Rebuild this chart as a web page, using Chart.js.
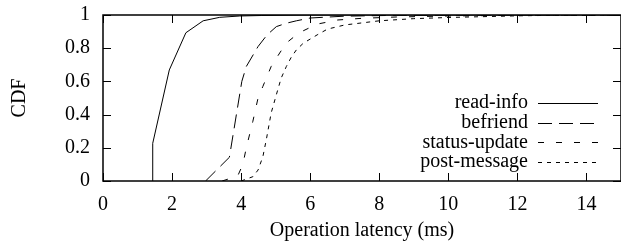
<!DOCTYPE html>
<html><head><meta charset="utf-8">
<script src="https://cdn.jsdelivr.net/npm/chart.js@4"></script>
<style>html,body{margin:0;padding:0;background:#fff}#c{display:block}</style>
</head><body>
<canvas id="c" width="621" height="241"></canvas>
<script>
const seriesLabels = ['read-info', 'befriend', 'status-update', 'post-message'];

const readInfoX = [1.44, 1.44, 1.92, 2.40, 2.90, 3.38, 3.96, 4.6, 6.0, 15];
const readInfoY = [0, 0.227, 0.669, 0.893, 0.965, 0.986, 0.994, 0.997, 1, 1];

const befriendX = [2.97, 3.66, 4.02, 4.15, 4.49, 4.75, 5.02, 5.3, 5.6, 6.0, 7, 8.5, 15];
const befriendY = [0, 0.143, 0.60, 0.69, 0.81, 0.88, 0.93, 0.95, 0.965, 0.982, 0.993, 0.998, 1];

const statusX = [3.45, 3.9, 4.05, 4.15, 4.34, 4.49, 4.63, 4.87, 5.02, 5.3, 5.6, 5.8, 6.2, 6.8, 7.5, 8.5, 10, 12, 15];
const statusY = [0, 0.03, 0.10, 0.20, 0.36, 0.50, 0.57, 0.69, 0.74, 0.83, 0.88, 0.905, 0.945, 0.97, 0.98, 0.988, 0.994, 0.998, 1];

const postX = [4.0, 4.34, 4.49, 4.63, 4.73, 4.87, 5.02, 5.16, 5.31, 5.45, 5.6, 5.8, 6.2, 6.5, 7.0, 8, 9, 10, 11, 12, 13, 15];
const postY = [0, 0.026, 0.066, 0.147, 0.25, 0.41, 0.52, 0.62, 0.69, 0.745, 0.79, 0.83, 0.88, 0.915, 0.94, 0.965, 0.978, 0.985, 0.99, 0.995, 0.998, 1];

const xTicks = [0, 2, 4, 6, 8, 10, 12, 14];
const yTicks = [0, 0.2, 0.4, 0.6, 0.8, 1];
const yTickLabels = ['0', '0.2', '0.4', '0.6', '0.8', '1'];
const xTitle = 'Operation latency (ms)';
const yTitle = 'CDF';

const FONT = 'Liberation Serif';
const FSIZE = 20;
const dashes = [[], [14, 7], [6, 12], [4, 5]];
const xs = [readInfoX, befriendX, statusX, postX];
const ys = [readInfoY, befriendY, statusY, postY];

const datasets = seriesLabels.map((lab, i) => ({
  label: lab,
  data: xs[i].map((x, j) => ({x: x, y: ys[i][j]})),
  borderColor: '#000',
  borderWidth: 1,
  borderDash: dashes[i],
  pointRadius: 0,
  tension: 0,
  fill: false
}));

const decor = {
  id: 'decor',
  afterDraw(chart) {
    const ctx = chart.ctx;
    const a = chart.chartArea;
    const sx = chart.scales.x, sy = chart.scales.y;
    ctx.save();
    ctx.strokeStyle = '#000';
    ctx.setLineDash([]);
    ctx.lineWidth = 1;
    ctx.beginPath();
    xTicks.forEach(v => {
      const p = Math.round(sx.getPixelForValue(v)) + 0.5;
      ctx.moveTo(p, a.bottom); ctx.lineTo(p, a.bottom - 8);
      ctx.moveTo(p, a.top); ctx.lineTo(p, a.top + 8);
    });
    yTicks.forEach(v => {
      const p = Math.round(sy.getPixelForValue(v)) + 0.5;
      ctx.moveTo(a.left, p); ctx.lineTo(a.left + 8, p);
      ctx.moveTo(a.right, p); ctx.lineTo(a.right - 8, p);
    });
    ctx.stroke();
    ctx.lineWidth = 1.5;
    ctx.strokeRect(a.left, a.top, a.right - a.left, a.bottom - a.top);
    // legend
    ctx.font = FSIZE + 'px "' + FONT + '"';
    ctx.fillStyle = '#000';
    ctx.textAlign = 'right';
    ctx.textBaseline = 'middle';
    chart.data.datasets.forEach((d, i) => {
      const y = 103 + 19.7 * i;
      ctx.fillText(d.label, 528, y);
      ctx.lineWidth = 1;
      ctx.setLineDash(d.borderDash);
      ctx.beginPath();
      ctx.moveTo(538, Math.round(y) + 0.5); ctx.lineTo(598, Math.round(y) + 0.5);
      ctx.stroke();
    });
    ctx.setLineDash([]);
    // axis titles
    ctx.textAlign = 'center';
    ctx.fillText(xTitle, (a.left + a.right) / 2, 231);
    ctx.translate(20, (a.top + a.bottom) / 2);
    ctx.rotate(-Math.PI / 2);
    ctx.fillText(yTitle, 0, 0);
    ctx.restore();
  }
};

new Chart(document.getElementById('c'), {
  type: 'line',
  data: {datasets: datasets},
  options: {
    responsive: false,
    animation: false,
    devicePixelRatio: 1,
    layout: {padding: {top: 15, right: 0, left: 0, bottom: 0}},
    plugins: {legend: {display: false}, tooltip: {enabled: false}},
    scales: {
      x: {
        type: 'linear', min: 0, max: 15,
        afterBuildTicks: s => { s.ticks = xTicks.map(v => ({value: v})); },
        afterFit: s => { s.height = 60; s.paddingLeft = 0; s.paddingRight = 0; },
        grid: {display: false, drawTicks: false},
        border: {display: false},
        ticks: {color: '#000', font: {family: FONT, size: FSIZE}, padding: 12, maxRotation: 0, autoSkip: false}
      },
      y: {
        type: 'linear', min: 0, max: 1,
        afterBuildTicks: s => { s.ticks = yTicks.map(v => ({value: v})); },
        afterFit: s => { s.width = 103; s.paddingTop = 0; s.paddingBottom = 0; },
        grid: {display: false, drawTicks: false},
        border: {display: false},
        ticks: {color: '#000', font: {family: FONT, size: FSIZE}, padding: 13,
          callback: (v) => yTickLabels[yTicks.indexOf(v)]}
      }
    }
  },
  plugins: [decor]
});
</script>
</body></html>
